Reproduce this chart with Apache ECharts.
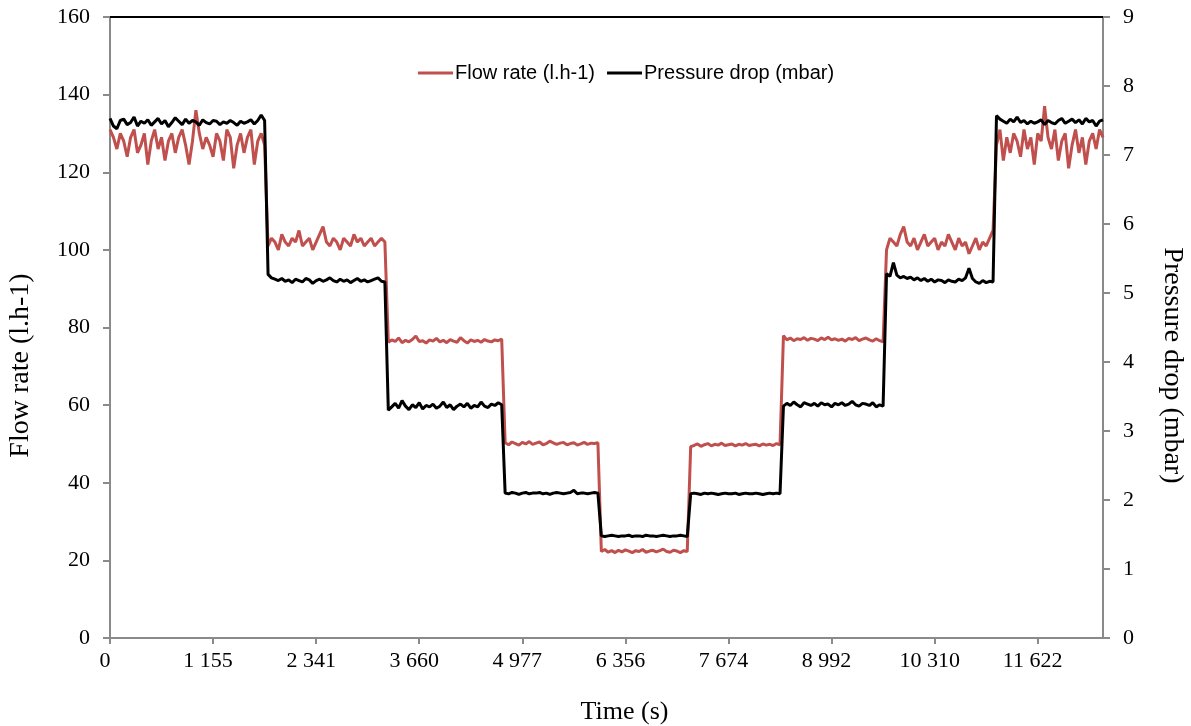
<!DOCTYPE html>
<html>
<head>
<meta charset="utf-8">
<script src="https://cdn.jsdelivr.net/npm/echarts@6/dist/echarts.min.js"></script>
<style>
html,body{margin:0;padding:0;background:#fff;}
#chart{width:1191px;height:726px;}
</style>
</head>
<body>
<div id="chart"></div>
<script>
// Tick labels of the time axis (one label every 30 samples)
var timeTickLabels = ['0', '1 155', '2 341', '3 660', '4 977', '6 356', '7 674', '8 992', '10 310', '11 622'];
var samplesPerTick = 30;

// Flow rate (l.h-1), segment by segment
var flowRate = [
  // ~130
  131,129,126,130,128,124,129,131,125,127, 130,122,128,131,126,129,123,128,130,125,
  129,131,127,122,128,136,130,126,129,127, 124,130,128,123,131,129,121,127,130,125,
  129,131,122,128,130,127,
  // ~102
  101,103,102,100,104, 102,101,103,102,105, 101,102,103,100,102, 104,106,102,101,103,
  102,100,103,102,101, 104,102,103,101,102, 103,101,102,103,102,
  // ~76.5
  76.2,76.8,76.4,77.3,76.1, 76.7,76.3,76.9,77.8,76.4, 76.6,76.0,76.8,76.5,77.2,
  76.3,76.7,76.1,76.9,76.5, 76.2,77.4,76.6,76.0,76.8, 76.4,76.7,76.2,76.9,76.5,
  76.3,76.8,76.6,77.0,
  // ~50
  50.3,49.8,50.5,50.1,49.7, 50.4,50.0,50.6,49.9,50.2, 50.5,49.8,50.1,50.7,50.3,
  49.9,50.2,50.4,49.8,50.1, 50.3,49.7,50.0,50.4,49.9, 50.2,50.1,50.3,
  // ~22.4
  22.3,22.8,22.1,22.5,22.0, 22.6,22.2,22.7,22.4,22.0, 22.5,22.3,22.8,22.1,22.4,
  22.6,22.2,22.5,22.9,22.3, 22.1,22.6,22.4,22.0,22.5, 22.3,
  // ~49.8
  49.3,49.6,50.0,49.4,49.8, 50.1,49.5,49.9,49.7,50.2, 49.6,49.8,50.0,49.5,49.9,
  49.7,50.1,49.6,49.8,49.9, 49.5,50.0,49.7,49.9,49.6, 50.1,49.8,
  // ~77
  77.9,76.8,77.3,76.6,77.1, 76.9,77.4,76.7,77.2,77.0, 76.6,77.3,76.9,77.5,76.8,
  77.1,76.7,77.0,76.5,77.2, 76.9,77.4,76.6,77.0,77.3, 76.8,76.5,77.1,76.6,76.3,
  // ~102
  100,103,102,101,104, 106,102,101,103,100, 102,104,101,102,103, 100,102,101,104,102,
  100,103,101,102,99, 101,103,100,102,101, 103,105,
  // ~128
  127,131,123,129,125, 130,128,124,131,126, 129,122,130,128,137, 129,126,131,123,128,
  130,121,127,131,125, 129,122,128,130,126, 131,129
];

// Pressure drop (mbar), segment by segment
var pressureDrop = [
  // ~7.48
  7.53,7.42,7.38,7.50,7.52, 7.44,7.47,7.55,7.42,7.49, 7.46,7.51,7.43,7.48,7.53,
  7.45,7.50,7.41,7.47,7.54, 7.49,7.44,7.52,7.46,7.50, 7.48,7.43,7.51,7.47,7.45,
  7.50,7.49,7.44,7.48,7.46, 7.50,7.47,7.43,7.49,7.46, 7.48,7.51,7.45,7.50,7.58,
  7.50,
  // ~5.19
  5.27,5.22,5.20,5.18,5.21, 5.17,5.19,5.15,5.20,5.18, 5.16,5.21,5.19,5.14,5.18,
  5.20,5.17,5.19,5.22,5.18, 5.16,5.20,5.17,5.19,5.15, 5.18,5.21,5.17,5.19,5.16,
  5.18,5.20,5.22,5.17,5.16,
  // ~3.37
  3.30,3.35,3.40,3.33,3.44, 3.36,3.31,3.38,3.34,3.41, 3.32,3.37,3.35,3.39,3.33,
  3.36,3.42,3.34,3.38,3.31, 3.36,3.39,3.35,3.40,3.33, 3.37,3.35,3.42,3.36,3.34,
  3.39,3.37,3.41,3.38,
  // ~2.10
  2.10,2.09,2.11,2.10,2.08, 2.10,2.11,2.09,2.10,2.10, 2.11,2.09,2.10,2.08,2.10,
  2.11,2.10,2.09,2.10,2.11, 2.14,2.09,2.10,2.10,2.09, 2.10,2.11,2.10,
  // ~1.48
  1.48,1.47,1.48,1.49,1.48, 1.47,1.48,1.48,1.49,1.47, 1.48,1.48,1.47,1.49,1.48,
  1.48,1.47,1.48,1.49,1.48, 1.47,1.48,1.48,1.49,1.48, 1.47,
  // ~2.09
  2.09,2.10,2.09,2.08,2.10, 2.09,2.10,2.09,2.08,2.09, 2.10,2.09,2.09,2.10,2.08,
  2.09,2.10,2.09,2.09,2.10, 2.09,2.08,2.09,2.10,2.09, 2.10,2.09,
  // ~3.39
  3.36,3.40,3.37,3.42,3.38, 3.35,3.41,3.39,3.37,3.40, 3.36,3.41,3.38,3.39,3.35,
  3.40,3.38,3.41,3.37,3.39, 3.43,3.38,3.36,3.40,3.39, 3.37,3.41,3.35,3.38,3.36,
  // ~5.22
  5.28,5.24,5.44,5.26,5.22, 5.24,5.21,5.23,5.19,5.22, 5.18,5.21,5.17,5.20,5.16,
  5.19,5.18,5.15,5.19,5.17, 5.16,5.20,5.18,5.22,5.36, 5.21,5.16,5.14,5.18,5.15,
  5.17,5.16,
  // ~7.48
  7.57,7.52,7.49,7.46,7.52, 7.48,7.55,7.47,7.50,7.45, 7.49,7.46,7.48,7.51,7.44,
  7.50,7.47,7.45,7.50,7.53, 7.46,7.49,7.52,7.47,7.51, 7.45,7.53,7.48,7.50,7.42,
  7.49,7.51
];

var categories = flowRate.map(function (v, i) {
  return i % samplesPerTick === 0 ? (timeTickLabels[i / samplesPerTick] || '') : '';
});
function isTick(i) { return i % samplesPerTick === 0; }

var serif = 'Liberation Serif';
var sans = 'Liberation Sans';
var axisGrey = '#8a8a8a';

var chart = echarts.init(document.getElementById('chart'), null, { renderer: 'canvas' });
chart.setOption({
  animation: false,
  backgroundColor: '#fff',
  grid: { left: 110, right: 88, top: 17, bottom: 88, containLabel: false, outerBoundsMode: 'none' },
  legend: {
    left: 413, top: 58, icon: 'rect',
    itemWidth: 35, itemHeight: 3, itemGap: 12,
    textStyle: { fontFamily: sans, fontSize: 20, color: '#000', padding: [0, 0, 0, -3] },
    data: ['Flow rate (l.h-1)', 'Pressure drop (mbar)']
  },
  xAxis: [{
    type: 'category', data: categories, boundaryGap: false,
    name: 'Time (s)', nameLocation: 'middle', nameGap: 61,
    nameTextStyle: { fontFamily: serif, fontSize: 26, color: '#000', padding: [0, 0, 0, 36] },
    axisLine: { onZero: false, lineStyle: { color: axisGrey, width: 2 } },
    axisTick: { show: true, interval: isTick, length: 6, lineStyle: { color: axisGrey, width: 2 } },
    axisLabel: { interval: isTick, fontFamily: serif, fontSize: 22, color: '#000', margin: 12, padding: [0, 10, 0, 0] },
    splitLine: { show: false }
  }, {
    type: 'category', data: categories, boundaryGap: false, position: 'top',
    axisLine: { onZero: false, lineStyle: { color: '#000', width: 2 } },
    axisTick: { show: false }, axisLabel: { show: false }, splitLine: { show: false }
  }],
  yAxis: [{
    type: 'value', min: 0, max: 160, interval: 20,
    name: 'Flow rate (l.h-1)', nameLocation: 'middle', nameGap: 75,
    nameTextStyle: { fontFamily: serif, fontSize: 28, color: '#000', padding: [0, 76, 0, 0] },
    axisLine: { show: true, onZero: false, lineStyle: { color: axisGrey, width: 2 } },
    axisTick: { show: true, length: 7, lineStyle: { color: axisGrey, width: 2 } },
    axisLabel: { fontFamily: serif, fontSize: 22, color: '#000', margin: 20 },
    splitLine: { show: false }
  }, {
    type: 'value', min: 0, max: 9, interval: 1, position: 'right',
    name: 'Pressure drop (mbar)', nameLocation: 'middle', nameGap: 55, nameRotate: -90,
    nameTextStyle: { fontFamily: serif, fontSize: 28, color: '#000', padding: [0, 0, 0, 76] },
    axisLine: { show: true, onZero: false, lineStyle: { color: axisGrey, width: 2 } },
    axisTick: { show: true, length: 7, lineStyle: { color: axisGrey, width: 2 } },
    axisLabel: { fontFamily: serif, fontSize: 22, color: '#000', margin: 20 },
    splitLine: { show: false }
  }],
  series: [{
    name: 'Flow rate (l.h-1)', type: 'line', data: flowRate, yAxisIndex: 0,
    symbol: 'none', color: '#c0504d',
    lineStyle: { color: '#c0504d', width: 3 }
  }, {
    name: 'Pressure drop (mbar)', type: 'line', data: pressureDrop, yAxisIndex: 1,
    symbol: 'none', color: '#000',
    lineStyle: { color: '#000', width: 3 }
  }]
});
</script>
</body>
</html>
